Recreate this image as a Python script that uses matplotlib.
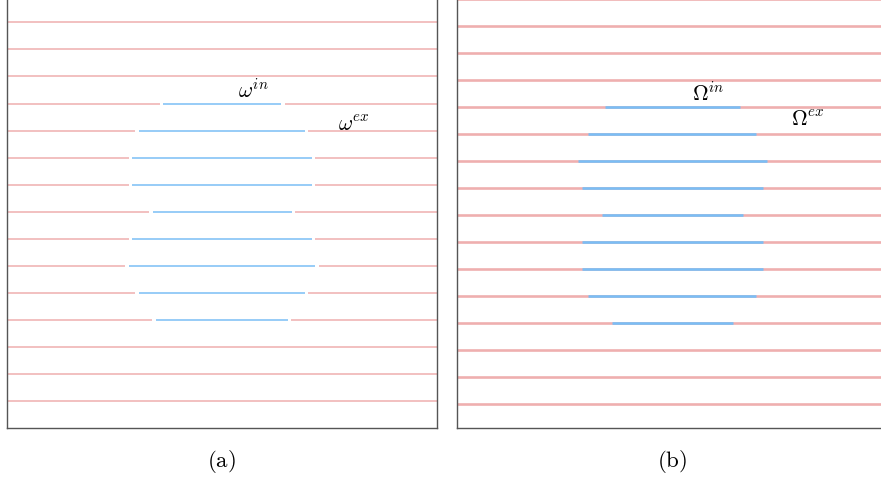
import numpy as np
import matplotlib
matplotlib.use("Agg")
import matplotlib.pyplot as plt

plt.rcParams['mathtext.fontset'] = 'cm'

# horizontal lines, numbered from the top
rows_a = np.arange(1, 16)
rows_b = np.arange(0, 16)
width = 430.0

# inner (blue) segments: row, start, end   (x measured from the left frame)
inner_rows_a = [4, 5, 6, 7, 8, 9, 10, 11, 12]
inner_start_a = [156.6, 132.3, 125.6, 125.6, 146.0, 125.6, 122.3, 132.3, 149.3]
inner_end_a = [274.3, 298.0, 305.0, 305.0, 285.0, 305.0, 308.3, 298.0, 281.0]

inner_rows_b = [4, 5, 6, 7, 8, 9, 10, 11, 12]
inner_start_b = [147.7, 131.0, 121.0, 124.4, 144.7, 124.4, 124.4, 131.0, 154.4]
inner_end_b = [282.7, 299.0, 309.4, 306.0, 286.0, 306.0, 306.0, 299.0, 275.7]

red = '#efafaf'
blue = '#7abef5'
gap = 3.7

fig = plt.figure(figsize=(8.81, 4.81), dpi=100)

# panel (a): thin lines with small gaps around the inner part
ax1 = fig.add_axes([6.7 / 881, 51.7 / 481, 430 / 881, 433 / 481])
inner_a = dict(zip(inner_rows_a, zip(inner_start_a, inner_end_a)))
for r in rows_a:
    if r in inner_a:
        s, e = inner_a[r]
        ax1.plot([0, s - gap], [r, r], color=red, lw=1.1, solid_capstyle='butt')
        ax1.plot([s, e], [r, r], color=blue, lw=1.1, solid_capstyle='butt')
        ax1.plot([e + gap, width], [r, r], color=red, lw=1.1, solid_capstyle='butt')
    else:
        ax1.plot([0, width], [r, r], color=red, lw=1.1)
ax1.set_xlim(0, width)
ax1.set_ylim(16, 0)
ax1.text(231.3, 3.74, r'$\omega^{in}$', fontsize=15.5, ha='left', va='baseline')
ax1.text(331.6, 4.96, r'$\omega^{ex}$', fontsize=15.5, ha='left', va='baseline')

# panel (b): thick lines, inner part drawn over the exterior
ax2 = fig.add_axes([457.3 / 881, 51.7 / 481, 430 / 881, 455 / 481])
for r in rows_b:
    ax2.plot([0, width], [r, r], color=red, lw=1.9, solid_capstyle='butt')
for r, s, e in zip(inner_rows_b, inner_start_b, inner_end_b):
    ax2.plot([s, e], [r, r], color=blue, lw=1.9, solid_capstyle='butt')
ax2.set_xlim(0, width)
ax2.set_ylim(15.91, -0.97)
ax2.text(234.4, 3.74, r'$\Omega^{in}$', fontsize=15.5, ha='left', va='baseline')
ax2.text(333.7, 4.67, r'$\Omega^{ex}$', fontsize=15.5, ha='left', va='baseline')

for ax in (ax1, ax2):
    ax.set_xticks([])
    ax.set_yticks([])
    for sp in ax.spines.values():
        sp.set_color('#555555')
        sp.set_linewidth(1.0)

fig.text(221 / 881, 1 - 461.7 / 481, r'$\mathrm{(a)}$', fontsize=16.5, ha='center', va='center')
fig.text(672 / 881, 1 - 461.7 / 481, r'$\mathrm{(b)}$', fontsize=16.5, ha='center', va='center')

fig.savefig('out.png', dpi=100)
